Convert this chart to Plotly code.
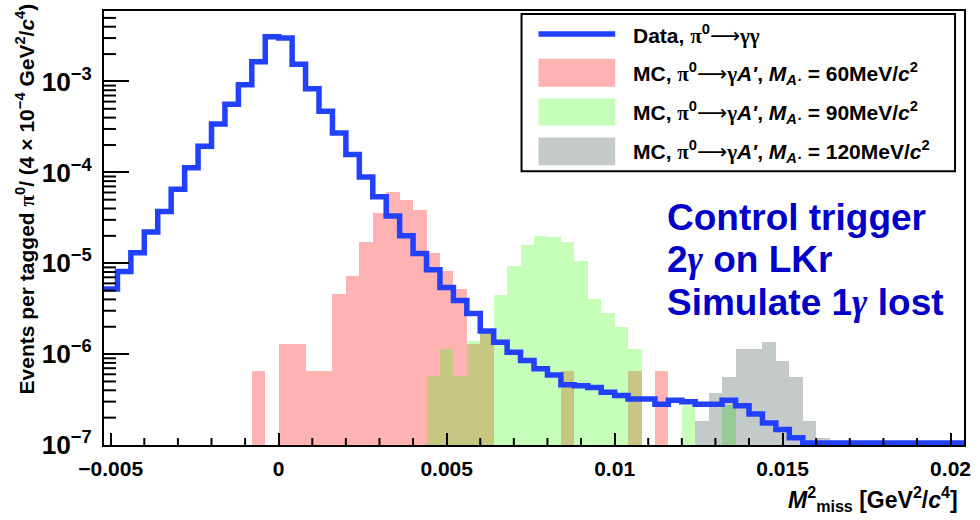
import numpy as np
import plotly.graph_objects as go

# ---------------- data ----------------
BIN_START = -0.0052          # GeV^2/c^4, left edge of first bin
BIN_WIDTH = 0.0004           # 4e-4 GeV^2/c^4 per bin
N_BINS = 64

# Data, pi0 -> gamma gamma (events per tagged pi0 per bin)
data_gg = [5.2e-6, 8.1e-6, 1.3e-5, 2.2e-5, 3.7e-5, 6.5e-5, 1.12e-4, 1.94e-4, 3.4e-4, 5.6e-4,
           9.2e-4, 1.65e-3, 3.1e-3, 3.0e-3, 1.55e-3, 8.3e-4, 4.7e-4, 2.7e-4, 1.57e-4, 8.9e-5,
           5.4e-5, 3.3e-5, 2.0e-5, 1.28e-5, 8.5e-6, 5.4e-6, 3.9e-6, 2.8e-6, 1.8e-6, 1.35e-6,
           1.05e-6, 8.5e-7, 6.9e-7, 5.9e-7, 4.6e-7, 4.5e-7, 4.3e-7, 3.8e-7, 3.5e-7, 3.2e-7,
           3.2e-7, 2.8e-7, 3.1e-7, 3.0e-7, 2.8e-7, 2.8e-7, 3.1e-7, 2.7e-7, 2.2e-7, 1.75e-7,
           1.48e-7, 1.2e-7, 1.05e-7, 1.05e-7, 1.05e-7, 1.05e-7, 1.05e-7, 1.05e-7, 1.05e-7, 1.05e-7,
           1.05e-7, 1.05e-7, 1.05e-7, 1.05e-7]

# MC, M_A' = 60 MeV/c^2
mc_60 = [0, 0, 0, 0, 0, 0, 0, 0, 0, 0,
         0, 6.5e-7, 0, 1.3e-6, 1.3e-6, 6.5e-7, 6.5e-7, 4.6e-6, 7.2e-6, 1.7e-5,
         3.55e-5, 6.1e-5, 5.0e-5, 3.85e-5, 1.3e-5, 8.3e-6, 5.2e-6, 1.3e-6, 1.74e-6, 0,
         0, 0, 0, 0, 6.5e-7, 0, 0, 0, 0, 6.5e-7,
         0, 6.5e-7, 0, 0, 0, 0, 0, 0, 0, 0,
         0, 0, 0, 0, 0, 0, 0, 0, 0, 0,
         0, 0, 0, 0]

# MC, M_A' = 90 MeV/c^2
mc_90 = [0, 0, 0, 0, 0, 0, 0, 0, 0, 0,
         0, 0, 0, 0, 0, 0, 0, 0, 0, 0,
         0, 0, 0, 0, 5.7e-7, 1.13e-6, 5.7e-7, 1.4e-6, 1.74e-6, 4.5e-6,
         9.3e-6, 1.6e-5, 2.0e-5, 1.92e-5, 1.7e-5, 1.07e-5, 4.0e-6, 2.8e-6, 2.0e-6, 1.15e-6,
         0, 0, 0, 2.75e-7, 0, 0, 2.75e-7, 0, 0, 0,
         0, 0, 0, 0, 0, 0, 0, 0, 0, 0,
         0, 0, 0, 0]

# MC, M_A' = 120 MeV/c^2
mc_120 = [0, 0, 0, 0, 0, 0, 0, 0, 0, 0,
          0, 0, 0, 0, 0, 0, 0, 0, 0, 0,
          0, 0, 0, 0, 0, 0, 0, 0, 0, 0,
          0, 0, 0, 0, 0, 0, 0, 0, 0, 0,
          0, 0, 0, 0, 1.85e-7, 3.7e-7, 5.6e-7, 1.15e-6, 1.15e-6, 1.37e-6,
          8.3e-7, 5.6e-7, 1.85e-7, 1.2e-7, 0, 0, 0, 0, 0, 0,
          0, 0, 0, 0]

x_tick_vals = [-0.005, 0, 0.005, 0.01, 0.015, 0.02]
x_tick_text = ["\u22120.005", "0", "0.005", "0.01", "0.015", "0.02"]

SER = "<span style='font-family:Liberation Serif'>"
ARW = "<span style='font-family:DejaVu Sans;font-weight:normal'>\u27f6</span>"
legend_labels = [
    "Data, " + SER + "\u03c0</span><sup>0</sup>" + ARW + SER + "\u03b3\u03b3</span>",
    "MC, " + SER + "\u03c0</span><sup>0</sup>" + ARW + SER + "\u03b3</span><i>A'</i>, <i>M</i><sub><i>A\u00b7</i></sub> = 60MeV/<i>c</i><sup>2</sup>",
    "MC, " + SER + "\u03c0</span><sup>0</sup>" + ARW + SER + "\u03b3</span><i>A'</i>, <i>M</i><sub><i>A\u00b7</i></sub> = 90MeV/<i>c</i><sup>2</sup>",
    "MC, " + SER + "\u03c0</span><sup>0</sup>" + ARW + SER + "\u03b3</span><i>A'</i>, <i>M</i><sub><i>A\u00b7</i></sub> = 120MeV/<i>c</i><sup>2</sup>",
]
gam = SER + "<i>\u03b3</i></span>"
note_lines = ["Control trigger", "2" + gam + " on LKr", "Simulate 1" + gam + " lost"]

# ---------------- styles ----------------
BLUE = "#2141ff"
RED_FILL = "rgba(255,0,0,0.30)"
GREEN_FILL = "rgba(40,255,0,0.27)"
GRAY_FILL = "rgba(20,45,45,0.25)"
FONT = "Liberation Sans"

edges = BIN_START + BIN_WIDTH * np.arange(N_BINS + 1)
centers = edges[:-1] + BIN_WIDTH / 2


def clean(vals):
    return [v if v > 0 else None for v in vals]


fig = go.Figure()
for vals, col, name in [(mc_60, RED_FILL, "MC 60"), (mc_90, GREEN_FILL, "MC 90"),
                        (mc_120, GRAY_FILL, "MC 120")]:
    fig.add_trace(go.Bar(x=centers, y=clean(vals), width=BIN_WIDTH, name=name,
                         marker=dict(color=col, line=dict(width=0)), showlegend=False))

fig.add_trace(go.Scatter(x=edges, y=data_gg + [data_gg[-1]], mode="lines",
                         line=dict(color=BLUE, width=5.5, shape="hv"),
                         name="Data", showlegend=False))

# ---------------- layout ----------------
W, H = 980, 520
L, R, T, B = 104, 13, 9, 75
pw, ph = W - L - R, H - T - B


def px_x(px):
    return (px - L) / pw


def px_y(py):
    return (H - B - py) / ph


fig.update_layout(
    width=W, height=H,
    margin=dict(l=L, r=R, t=T, b=B, pad=0),
    paper_bgcolor="white", plot_bgcolor="white",
    barmode="overlay", bargap=0,
    showlegend=False,
    font=dict(family=FONT, color="black"),
)

fig.update_xaxes(
    range=[edges[0], edges[-1]],
    tickmode="array", tickvals=x_tick_vals, ticktext=x_tick_text,
    ticks="inside", ticklen=12, tickwidth=2, tickcolor="black",
    showline=True, linewidth=2, linecolor="black", mirror=True,
    showgrid=False, zeroline=False,
    tickfont=dict(family=FONT, size=21, weight="bold", color="black"),
    ticklabelstandoff=4,
)

fig.update_yaxes(
    type="log", range=[-7, -2.225],
    tickmode="linear", tick0=0, dtick=1,
    exponentformat="power", showexponent="all",
    ticks="inside", ticklen=25, tickwidth=2, tickcolor="black",
    showline=True, linewidth=2, linecolor="black", mirror=True,
    showgrid=False, zeroline=False,
    tickfont=dict(family=FONT, size=21, weight="bold", color="black"),
    ticklabelstandoff=6,
)

shapes = []
# minor ticks (axis furniture)
for v in np.arange(-0.005, 0.0205, 0.001):
    v = round(float(v), 4)
    if any(abs(v - t) < 1e-9 for t in x_tick_vals):
        continue
    shapes.append(dict(type="line", xref="x", yref="paper", x0=v, x1=v, y0=0, y1=7 / ph,
                       line=dict(color="black", width=2)))
for e in range(-7, -2):
    for k in range(2, 10):
        v = k * 10.0 ** e
        if np.log10(v) > -2.225:
            continue
        shapes.append(dict(type="line", xref="paper", yref="y", x0=0, x1=12 / pw, y0=v, y1=v,
                           line=dict(color="black", width=2)))
# legend box
shapes.append(dict(type="rect", xref="paper", yref="paper",
                   x0=px_x(523), x1=px_x(958), y0=px_y(170), y1=px_y(12),
                   line=dict(color="black", width=2), fillcolor="white", layer="above"))
shapes.append(dict(type="line", xref="paper", yref="paper",
                   x0=px_x(540), x1=px_x(617), y0=px_y(32), y1=px_y(32),
                   line=dict(color=BLUE, width=5.5)))
for (y0, y1), col in zip([(57, 85), (97, 124), (136, 164)], [RED_FILL, GREEN_FILL, GRAY_FILL]):
    shapes.append(dict(type="rect", xref="paper", yref="paper",
                       x0=px_x(540), x1=px_x(617), y0=px_y(y1), y1=px_y(y0),
                       line=dict(width=0), fillcolor=col))
fig.update_layout(shapes=shapes)

ann = []
for lab, yc in zip(legend_labels, [33, 72, 111, 150]):
    ann.append(dict(text=lab, xref="paper", yref="paper", x=px_x(633), y=px_y(yc),
                    xanchor="left", yanchor="middle", showarrow=False,
                    font=dict(family=FONT, size=21, weight="bold", color="black")))
for line, yc in zip(note_lines, [216, 259, 302]):
    ann.append(dict(text=line, xref="paper", yref="paper", x=px_x(667), y=px_y(yc),
                    xanchor="left", yanchor="middle", showarrow=False,
                    font=dict(family=FONT, size=37, weight="bold", color="#0000c8")))
# axis titles
ann.append(dict(text="Events per tagged " + SER + "\u03c0</span><sup>0</sup>/ (4 \u00d7 10<sup>\u22124</sup> GeV<sup>2</sup>/<i>c</i><sup>4</sup>)",
                xref="paper", yref="paper", x=px_x(25), y=px_y(198), textangle=-90,
                xanchor="center", yanchor="middle", showarrow=False,
                font=dict(family=FONT, size=21, weight="bold", color="black")))
ann.append(dict(text="<i>M</i><sup>2</sup><sub>miss</sub> [GeV<sup>2</sup>/<i>c</i><sup>4</sup>]",
                xref="paper", yref="paper", x=px_x(963), y=px_y(499),
                xanchor="right", yanchor="middle", showarrow=False,
                font=dict(family=FONT, size=23, weight="bold", color="black")))
fig.update_layout(annotations=ann)

fig.write_html("out.html")
